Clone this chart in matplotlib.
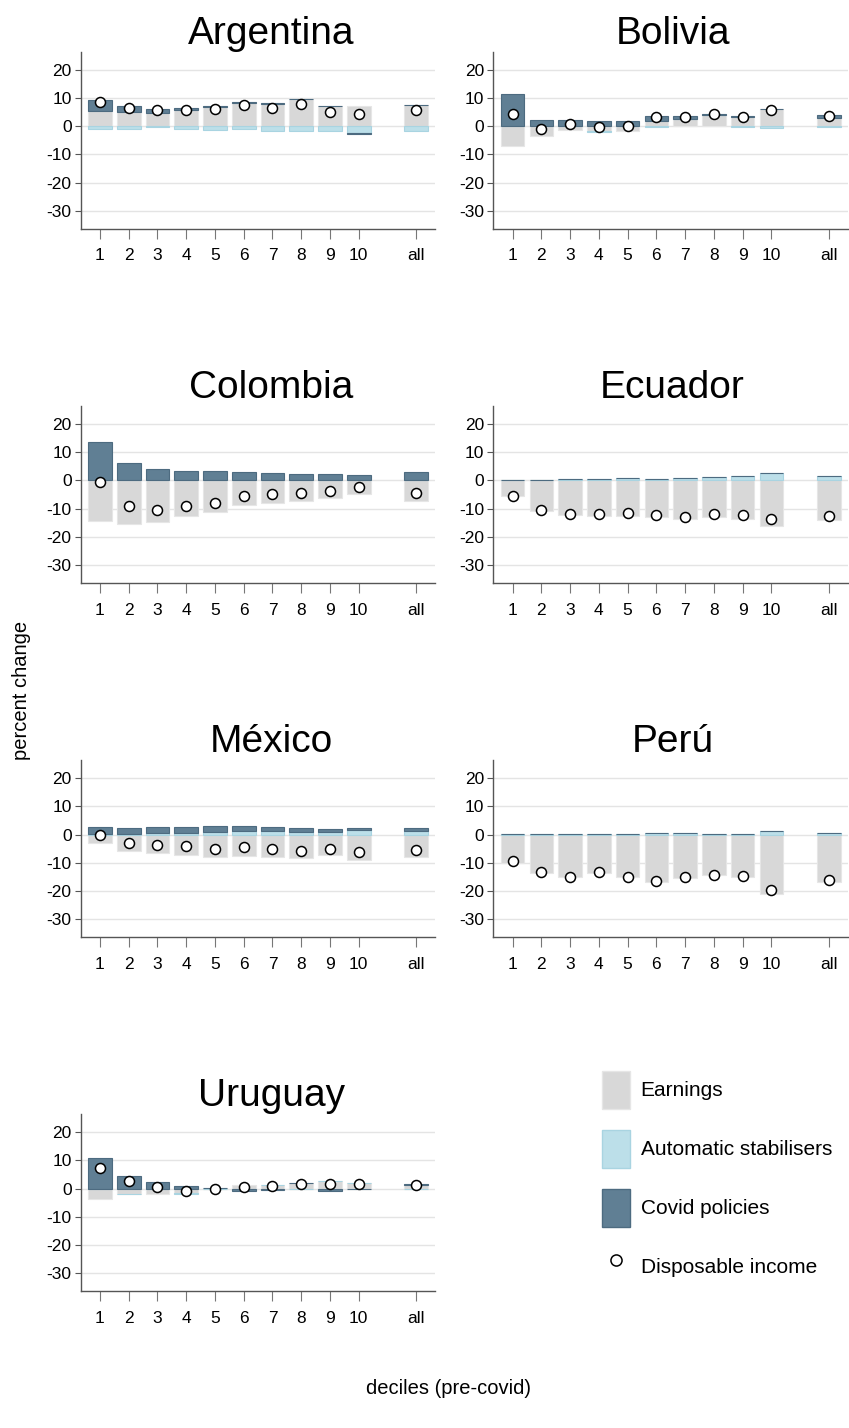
import matplotlib
matplotlib.use('Agg')
import matplotlib.pyplot as plt
from matplotlib.patches import Patch
from matplotlib.lines import Line2D
import numpy as np

plt.rcParams['font.family'] = ['Liberation Sans', 'DejaVu Sans']
plt.rcParams['axes.unicode_minus'] = False

# deciles 1..10 plus the "all" group
deciles = ['1', '2', '3', '4', '5', '6', '7', '8', '9', '10', 'all']
xpos = [1, 2, 3, 4, 5, 6, 7, 8, 9, 10, 12]

# Argentina
arg_earn = [5.6, 5.1, 4.7, 5.9, 6.9, 8.4, 8.0, 9.7, 7.2, 7.2, 7.5]
arg_auto = [-0.8, -0.9, -0.2, -0.9, -1.2, -1.1, -1.5, -1.7, -1.7, -2.5, -1.7]
arg_covid = [3.8, 2.1, 1.3, 0.6, 0.3, 0.3, 0.1, 0.0, 0.0, -0.2, 0.1]
arg_disp = [8.7, 6.4, 5.8, 5.7, 6.2, 7.5, 6.6, 7.9, 5.2, 4.5, 5.8]

# Bolivia
bol_earn = [-7.0, -3.5, -1.3, -1.8, -1.5, 2.0, 2.6, 3.9, 3.3, 6.1, 3.0]
bol_auto = [0.0, 0.0, 0.0, -0.2, 0.0, -0.2, 0.0, 0.0, -0.2, -0.5, -0.2]
bol_covid = [11.4, 2.3, 2.3, 1.8, 1.8, 1.6, 1.1, 0.6, 0.4, 0.0, 0.9]
bol_disp = [4.3, -1.1, 0.9, -0.2, 0.1, 3.3, 3.2, 4.4, 3.3, 5.7, 3.6]

# Colombia
col_earn = [-14.5, -15.5, -14.8, -12.5, -11.3, -8.9, -8.0, -7.4, -6.2, -4.9, -7.4]
col_auto = [0.0, 0.0, 0.0, 0.0, 0.0, 0.0, 0.0, 0.0, 0.0, 0.0, 0.0]
col_covid = [13.7, 6.3, 4.2, 3.3, 3.5, 3.1, 2.7, 2.4, 2.1, 2.0, 2.9]
col_disp = [-0.7, -9.0, -10.5, -9.0, -7.9, -5.7, -5.0, -4.6, -3.8, -2.4, -4.4]

# Ecuador
ecu_earn = [-5.7, -11.0, -12.4, -12.6, -12.5, -13.0, -13.7, -12.9, -13.8, -16.3, -14.2]
ecu_auto = [0.1, 0.3, 0.4, 0.4, 0.7, 0.6, 0.7, 1.1, 1.5, 2.6, 1.6]
ecu_covid = [0.0, 0.0, 0.0, 0.0, 0.0, 0.0, 0.0, 0.0, 0.0, 0.0, 0.0]
ecu_disp = [-5.6, -10.6, -11.8, -12.0, -11.7, -12.4, -13.1, -11.8, -12.4, -13.6, -12.5]

# Mexico
mex_earn = [-2.9, -5.7, -6.7, -7.2, -8.1, -7.5, -7.9, -8.3, -7.4, -8.9, -7.9]
mex_auto = [0.3, 0.2, 0.5, 0.5, 1.0, 1.2, 1.1, 0.8, 0.8, 1.8, 1.2]
mex_covid = [2.5, 2.1, 2.3, 2.3, 2.0, 1.8, 1.5, 1.5, 1.2, 0.6, 1.1]
mex_disp = [0.0, -3.1, -3.8, -4.2, -5.0, -4.4, -5.1, -5.7, -5.3, -6.3, -5.4]

# Peru
per_earn = [-10.1, -13.7, -15.1, -13.7, -15.1, -17.0, -15.5, -14.5, -14.9, -21.1, -17.0]
per_auto = [0.1, 0.2, 0.2, 0.2, 0.2, 0.5, 0.4, 0.3, 0.2, 1.2, 0.5]
per_covid = [0.0, 0.0, 0.0, 0.0, 0.0, 0.0, 0.0, 0.0, 0.0, 0.0, 0.0]
per_disp = [-9.4, -13.3, -15.0, -13.3, -14.9, -16.5, -15.1, -14.3, -14.6, -19.8, -16.3]

# Uruguay
uru_earn = [-3.7, -1.8, -1.8, -1.5, 0.3, 1.3, 1.3, 2.0, 2.6, 2.0, 1.4]
uru_auto = [0.0, -0.2, 0.0, -0.3, -0.2, -0.3, 0.0, -0.3, 0.0, 0.0, -0.2]
uru_covid = [10.7, 4.6, 2.5, 0.95, 0.0, -0.5, -0.4, 0.0, -0.8, -0.2, 0.2]
uru_disp = [7.3, 2.7, 0.6, -0.7, 0.0, 0.6, 1.0, 1.7, 1.8, 1.8, 1.4]

countries = ['Argentina', 'Bolivia', 'Colombia', 'Ecuador', 'México', 'Perú', 'Uruguay']
series = [
    (arg_earn, arg_auto, arg_covid, arg_disp),
    (bol_earn, bol_auto, bol_covid, bol_disp),
    (col_earn, col_auto, col_covid, col_disp),
    (ecu_earn, ecu_auto, ecu_covid, ecu_disp),
    (mex_earn, mex_auto, mex_covid, mex_disp),
    (per_earn, per_auto, per_covid, per_disp),
    (uru_earn, uru_auto, uru_covid, uru_disp),
]

c_earn = '#d8d8d8'
c_auto = '#bcdfe9'
c_covid = '#607f94'
e_earn = '#e6e6e6'
e_auto = '#a9d4e1'
e_covid = '#4d6b80'

W, H = 849, 1428
fig = plt.figure(figsize=(W / 100, H / 100), dpi=100)

col_left = [80.7, 493.3]
title_x = [0.537, 0.506]
ax_w = 354.5
row_top = [51.7, 405.8, 760.0, 1114.0]
ax_h = 177.3

for i, (name, (earn, auto, covid, disp)) in enumerate(zip(countries, series)):
    r, c = divmod(i, 2)
    ax = fig.add_axes([col_left[c] / W, 1 - (row_top[r] + ax_h) / H, ax_w / W, ax_h / H])

    pos_base = np.zeros(len(xpos))
    neg_base = np.zeros(len(xpos))
    for vals, fc, ec in [(earn, c_earn, e_earn), (auto, c_auto, e_auto), (covid, c_covid, e_covid)]:
        v = np.array(vals, dtype=float)
        base = np.where(v >= 0, pos_base, neg_base)
        ax.bar(xpos, v, 0.82, bottom=base, color=fc, edgecolor=ec, linewidth=0.8, zorder=2)
        pos_base = pos_base + np.where(v >= 0, v, 0)
        neg_base = neg_base + np.where(v < 0, v, 0)

    ax.plot(xpos, disp, 'o', ms=7.2, mfc='white', mec='black', mew=1.1, zorder=4)

    ax.set_xlim(0.33, 12.66)
    ax.set_ylim(-36.5, 26.5)
    ax.set_yticks([-30, -20, -10, 0, 10, 20])
    ax.set_xticks(xpos)
    ax.set_xticklabels(deciles)
    ax.yaxis.grid(True, color='#e4e4e4', lw=1)
    ax.set_axisbelow(True)
    for s in ['top', 'right']:
        ax.spines[s].set_visible(False)
    for s in ['left', 'bottom']:
        ax.spines[s].set_color('#555555')
        ax.spines[s].set_linewidth(1)
    ax.tick_params(axis='x', length=7, color='#777777', labelsize=12.5, pad=7)
    ax.tick_params(axis='y', length=4.5, color='#555555', labelsize=12.5, pad=2)
    ax.set_title(name, fontsize=28, pad=4, x=title_x[c])

fig.text(22 / W, 1 - 690 / H, 'percent change', rotation=90, ha='center', va='center', fontsize=14.5)
fig.text(448 / W, 1 - 1388 / H, 'deciles (pre-covid)', ha='center', va='center', fontsize=14.5)

handles = [
    Patch(facecolor=c_earn, edgecolor=e_earn),
    Patch(facecolor=c_auto, edgecolor=e_auto),
    Patch(facecolor=c_covid, edgecolor=e_covid),
    Line2D([], [], ls='none', marker='o', ms=8, mfc='white', mec='black', mew=1.1),
]
labels = ['Earnings', 'Automatic stabilisers', 'Covid policies', 'Disposable income']
fig.legend(handles, labels, loc='upper left', bbox_to_anchor=(602 / W, 1 - 1071 / H),
           frameon=False, fontsize=15, handlelength=1.35, handleheight=2.43,
           labelspacing=1.0, handletextpad=0.5, borderpad=0, borderaxespad=0)

fig.savefig('out.png', dpi=100)
